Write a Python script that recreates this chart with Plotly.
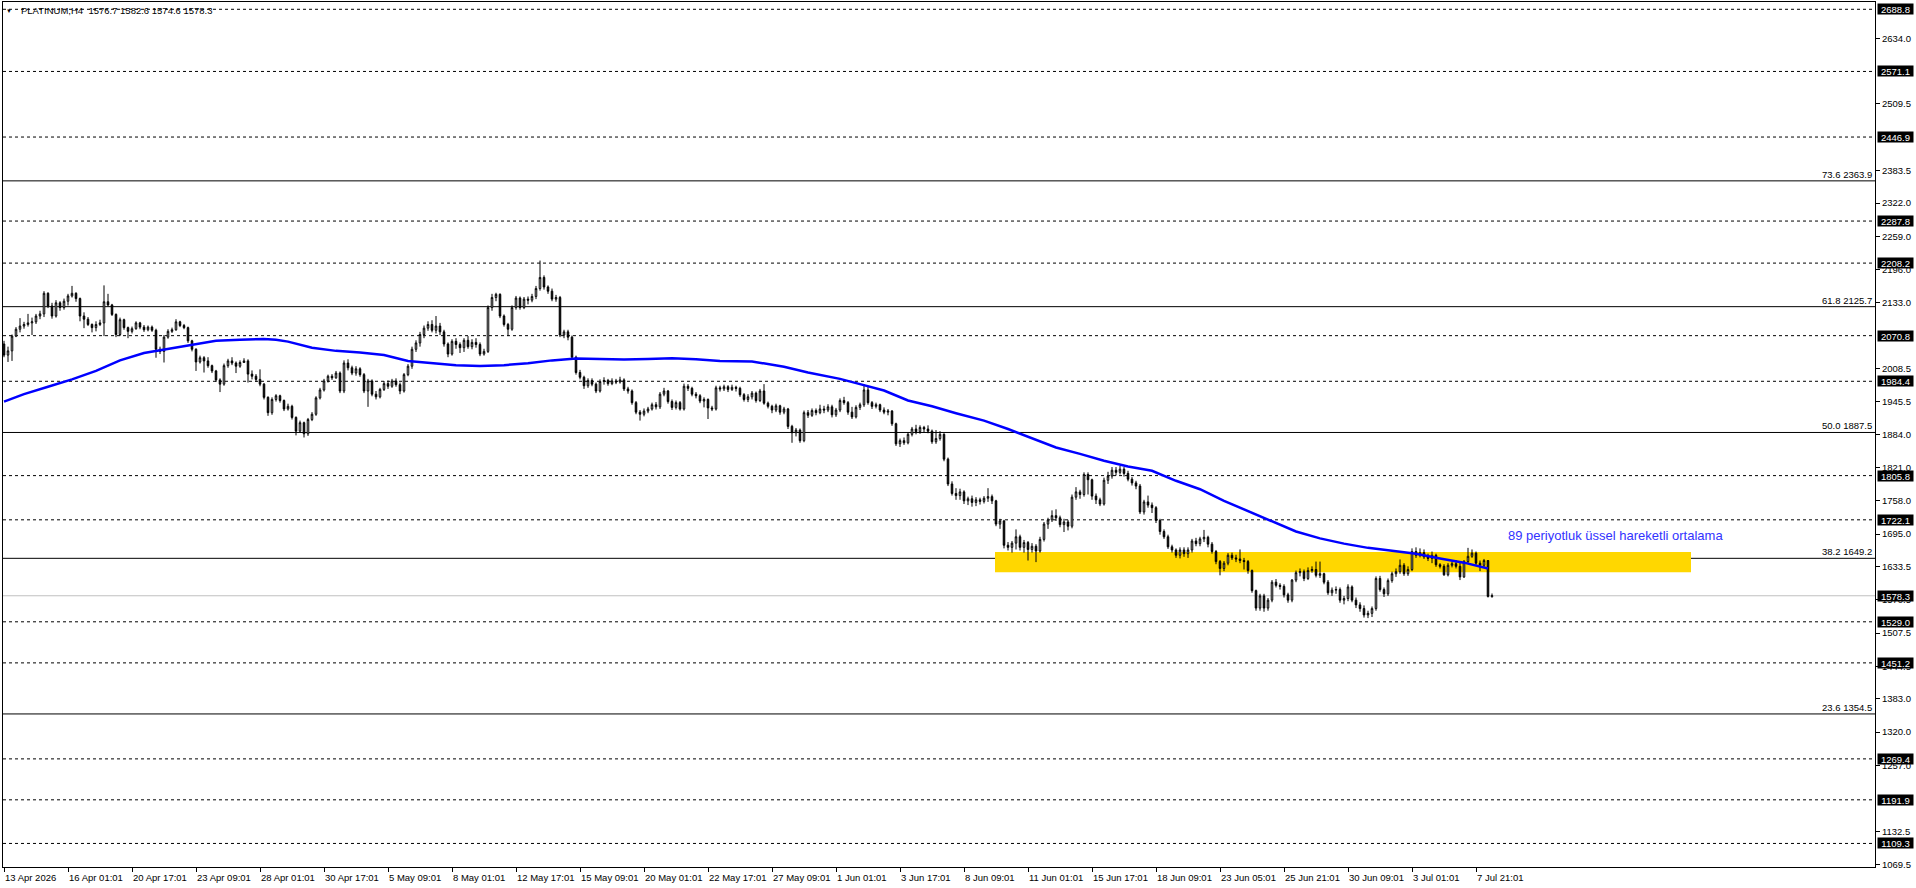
import plotly.graph_objects as go

# ---------------- data ----------------
TITLE_TEXT = "PLATINUM,H4  1576.7 1582.6 1574.6 1578.3"
MA_LABEL = "89 periyotluk üssel hareketli ortalama"

OPEN = [
2055,2034,2042,2070,2083,2089,2092,2095,2097,2108,
2112,2151,2127,2108,2133,2124,2136,2146,2151,2141,
2108,2102,2092,2086,2092,2095,2135,2129,2111,2073,
2101,2086,2079,2084,2095,2087,2082,2087,2081,2045,
2041,2068,2079,2082,2097,2090,2086,2061,2045,2021,
2029,2023,2014,2004,1987,1979,2014,2023,2019,2013,
2020,2023,1998,1994,1988,1979,1954,1925,1950,1957,
1948,1932,1937,1916,1890,1906,1885,1912,1922,1953,
1968,1985,1994,1991,2000,1966,2019,2010,2000,2008,
1997,1966,1985,1960,1955,1969,1980,1975,1985,1978,
1966,1997,2013,2045,2057,2073,2085,2092,2081,2089,
2078,2055,2036,2060,2054,2048,2062,2050,2058,2054,
2036,2041,2124,2143,2149,2108,2092,2083,2124,2142,
2124,2140,2138,2145,2160,2181,2163,2155,2140,2143,
2072,2078,2068,2030,2001,1992,1976,1986,1979,1966,
1984,1986,1980,1985,1983,1987,1970,1966,1944,1926,
1922,1928,1932,1940,1936,1960,1966,1946,1935,1944,
1932,1975,1971,1960,1957,1947,1950,1934,1932,1972,
1970,1974,1969,1973,1971,1959,1950,1955,1962,1948,
1966,1943,1937,1930,1938,1926,1932,1899,1887,1892,
1872,1925,1920,1929,1925,1932,1930,1936,1921,1930,
1948,1944,1926,1917,1935,1940,1968,1944,1937,1940,
1930,1926,1928,1904,1866,1872,1868,1884,1894,1889,
1897,1894,1890,1870,1876,1884,1837,1790,1772,1768,
1775,1758,1762,1755,1760,1757,1763,1766,1758,1714,
1720,1674,1670,1678,1690,1670,1679,1666,1672,1663,
1685,1714,1722,1730,1726,1713,1718,1710,1765,1775,
1770,1808,1798,1767,1760,1752,1797,1805,1816,1812,
1818,1810,1799,1792,1786,1737,1756,1750,1745,1721,
1700,1690,1671,1665,1655,1665,1658,1665,1682,1677,
1686,1689,1676,1662,1643,1630,1640,1655,1650,1648,
1645,1643,1626,1588,1555,1578,1555,1570,1604,1598,
1596,1580,1570,1608,1622,1624,1611,1626,1628,1617,
1620,1604,1584,1589,1590,1570,1573,1595,1570,1561,
1554,1542,1545,1554,1611,1590,1582,1607,1620,1624,
1636,1620,1628,1662,1655,1660,1652,1649,1655,1637,
1634,1618,1636,1639,1634,1614,1643,1653,1659,1640,
1636,1645,1576.7]

HIGH = [
2061,2050,2073,2087,2104,2097,2112,2105,2112,2118,
2155,2153,2133,2138,2136,2141,2150,2165,2153,2143,
2115,2106,2094,2098,2101,2166,2150,2131,2113,2105,
2103,2088,2088,2098,2097,2091,2090,2090,2084,2050,
2072,2083,2086,2102,2099,2093,2088,2063,2047,2033,
2032,2030,2016,2006,1990,2018,2027,2030,2022,2024,
2028,2026,2005,1998,2007,1981,1956,1954,1960,1959,
1950,1942,1940,1918,1910,1908,1915,1926,1956,1972,
1989,1997,1998,2004,2003,2024,2026,2014,2013,2011,
2000,1989,1988,1966,1972,1985,1986,1989,1990,1982,
2000,2017,2050,2062,2078,2090,2098,2100,2108,2095,
2082,2058,2064,2066,2058,2066,2070,2064,2066,2058,
2046,2128,2150,2152,2151,2111,2095,2128,2146,2145,
2144,2145,2150,2165,2213,2185,2166,2160,2148,2146,
2082,2082,2071,2033,2006,1995,1990,1990,1982,1988,
1992,1989,1990,1989,1993,1990,1974,1969,1947,1930,
1933,1936,1944,1945,1964,1972,1968,1950,1948,1947,
1980,1979,1974,1964,1960,1954,1952,1938,1976,1976,
1978,1977,1978,1976,1974,1962,1960,1966,1965,1970,
1979,1946,1940,1942,1940,1936,1934,1902,1896,1895,
1929,1930,1933,1933,1940,1938,1941,1940,1934,1952,
1955,1947,1936,1939,1944,1979,1976,1947,1944,1942,
1935,1932,1930,1906,1876,1878,1888,1898,1902,1901,
1900,1901,1893,1892,1890,1886,1840,1795,1782,1781,
1778,1766,1768,1765,1764,1767,1782,1770,1760,1724,
1722,1680,1682,1704,1694,1684,1682,1678,1676,1690,
1718,1726,1740,1742,1730,1724,1722,1770,1784,1779,
1812,1812,1800,1772,1764,1802,1813,1822,1822,1824,
1822,1815,1803,1796,1790,1760,1768,1755,1748,1724,
1704,1694,1675,1668,1670,1670,1670,1686,1688,1690,
1703,1692,1680,1665,1646,1644,1659,1660,1656,1666,
1650,1646,1628,1590,1582,1582,1574,1608,1610,1602,
1600,1584,1610,1626,1630,1628,1632,1634,1643,1643,
1622,1608,1594,1596,1594,1578,1600,1598,1575,1566,
1560,1550,1558,1615,1616,1594,1611,1624,1630,1647,
1640,1634,1668,1670,1668,1666,1658,1662,1658,1640,
1638,1640,1643,1646,1642,1646,1669,1666,1662,1645,
1648,1646,1582.6]

LOW = [
2030,2021,2023,2068,2077,2084,2088,2072,2093,2102,
2106,2123,2103,2105,2118,2120,2128,2143,2135,2098,
2085,2089,2077,2079,2089,2070,2126,2108,2068,2070,
2082,2066,2075,2082,2083,2078,2079,2078,2029,2036,
2020,2065,2076,2080,2087,2083,2057,2041,2004,2018,
2001,2010,2000,1983,1964,1976,2010,2015,2000,2010,
2019,1982,1988,1983,1975,1950,1919,1921,1946,1944,
1928,1929,1912,1882,1887,1878,1881,1909,1919,1950,
1965,1982,1987,1989,1962,1962,2005,1996,1995,1993,
1962,1936,1956,1950,1952,1966,1970,1972,1974,1960,
1963,1994,2008,2040,2050,2066,2080,2077,2075,2072,
2050,2030,2033,2046,2038,2040,2046,2045,2048,2032,
2033,2038,2118,2136,2104,2088,2070,2080,2120,2120,
2121,2130,2134,2140,2156,2158,2150,2136,2135,2068,
2066,2062,2026,1997,1988,1970,1972,1975,1962,1963,
1978,1976,1977,1979,1980,1966,1961,1940,1922,1910,
1918,1924,1929,1931,1932,1956,1942,1930,1931,1929,
1929,1966,1956,1952,1943,1935,1913,1928,1929,1965,
1966,1964,1966,1965,1955,1946,1945,1950,1944,1945,
1940,1933,1924,1926,1921,1922,1894,1868,1880,1868,
1869,1915,1917,1920,1922,1924,1926,1916,1917,1926,
1940,1921,1913,1914,1930,1936,1940,1932,1933,1926,
1922,1920,1900,1862,1860,1864,1865,1880,1884,1885,
1888,1886,1866,1866,1872,1833,1786,1768,1760,1760,
1752,1750,1747,1748,1751,1753,1756,1752,1710,1705,
1668,1664,1660,1666,1664,1660,1645,1660,1642,1660,
1681,1705,1718,1720,1708,1699,1702,1706,1760,1762,
1766,1770,1760,1752,1748,1749,1790,1800,1806,1808,
1804,1795,1787,1780,1733,1732,1745,1735,1716,1694,
1686,1667,1660,1650,1649,1652,1650,1660,1672,1672,
1680,1670,1658,1638,1617,1625,1636,1646,1642,1640,
1628,1620,1584,1550,1550,1548,1550,1566,1594,1590,
1575,1565,1566,1604,1615,1606,1608,1622,1613,1612,
1600,1580,1578,1582,1565,1562,1568,1566,1555,1548,
1537,1536,1538,1550,1586,1576,1578,1603,1614,1620,
1616,1616,1625,1650,1651,1648,1644,1640,1633,1630,
1616,1615,1632,1630,1608,1612,1640,1650,1636,1625,
1632,1575,1574.6]

CLOSE = [
2034,2042,2070,2083,2089,2092,2095,2097,2108,2112,
2151,2127,2108,2133,2124,2136,2146,2151,2141,2108,
2102,2092,2086,2092,2095,2135,2129,2111,2073,2101,
2086,2079,2084,2095,2087,2082,2087,2081,2045,2041,
2068,2079,2082,2097,2090,2086,2061,2045,2021,2029,
2023,2014,2004,1987,1979,2014,2023,2019,2013,2020,
2023,1998,1994,1988,1979,1954,1925,1950,1957,1948,
1932,1937,1916,1890,1906,1885,1912,1922,1953,1968,
1985,1994,1991,2000,1966,2019,2010,2000,2008,1997,
1966,1985,1960,1955,1969,1980,1975,1985,1978,1966,
1997,2013,2045,2057,2073,2085,2092,2081,2089,2078,
2055,2036,2060,2054,2048,2062,2050,2058,2054,2036,
2041,2124,2143,2149,2108,2092,2083,2124,2142,2124,
2140,2138,2145,2160,2181,2163,2155,2140,2143,2072,
2078,2068,2030,2001,1992,1976,1986,1979,1966,1984,
1986,1980,1985,1983,1987,1970,1966,1944,1926,1922,
1928,1932,1940,1936,1960,1966,1946,1935,1944,1932,
1975,1971,1960,1957,1947,1950,1934,1932,1972,1970,
1974,1969,1973,1971,1959,1950,1955,1962,1948,1966,
1943,1937,1930,1938,1926,1932,1899,1887,1892,1872,
1925,1920,1929,1925,1932,1930,1936,1921,1930,1948,
1944,1926,1917,1935,1940,1968,1944,1937,1940,1930,
1926,1928,1904,1866,1872,1868,1884,1894,1889,1897,
1894,1890,1870,1876,1884,1837,1790,1772,1768,1775,
1758,1762,1755,1760,1757,1763,1766,1758,1714,1720,
1674,1670,1678,1690,1670,1679,1666,1672,1663,1685,
1714,1722,1730,1726,1713,1718,1710,1765,1775,1770,
1808,1798,1767,1760,1752,1797,1805,1816,1812,1818,
1810,1799,1792,1786,1737,1756,1750,1745,1721,1700,
1690,1671,1665,1655,1665,1658,1665,1682,1677,1686,
1689,1676,1662,1643,1630,1640,1655,1650,1648,1645,
1643,1626,1588,1555,1578,1555,1570,1604,1598,1596,
1580,1570,1608,1622,1624,1611,1626,1628,1617,1620,
1604,1584,1589,1590,1570,1573,1595,1570,1561,1554,
1542,1545,1554,1611,1590,1582,1607,1620,1624,1636,
1620,1628,1662,1655,1660,1652,1649,1655,1637,1634,
1618,1636,1639,1634,1614,1643,1653,1659,1640,1636,
1645,1577,1578.3]

# 89-period exponential moving average (bar index, value)
MA_BAR = [0, 5, 11, 17, 23, 29, 35, 41, 47, 53, 59, 65, 68, 71, 77, 83, 89, 95,
          101, 107, 113, 119, 125, 131, 137, 143, 149, 155, 161, 167, 173, 179,
          187, 195, 201, 209, 214, 220, 226, 232, 238, 245, 251, 257, 263, 269,
          275, 281, 287, 293, 299, 305, 311, 317, 323, 329, 335, 341, 347, 353,
          359, 365, 371]
MA_VALUE = [1946, 1960, 1974, 1988, 2004, 2024, 2038, 2046, 2054, 2061, 2063,
            2064.5, 2063, 2059.5, 2048, 2042, 2039, 2034, 2023, 2019, 2015,
            2013.5, 2015, 2018.5, 2024, 2027.5, 2026, 2025.5, 2026.5, 2028,
            2026, 2023, 2022, 2012, 2001, 1989, 1979, 1967, 1948, 1937, 1924,
            1910, 1894, 1876, 1859, 1847, 1834, 1823, 1815, 1796, 1780, 1758,
            1739, 1720, 1700, 1687, 1677, 1669, 1664, 1658, 1649, 1641, 1630]

DATE_TICK_BARS = [0, 16, 32, 48, 64, 80, 96, 112, 128, 144, 160, 176, 192, 208,
                  224, 240, 256, 272, 288, 304, 320, 336, 352, 368]
DATE_TICK_LABELS = ["13 Apr 2026", "16 Apr 01:01", "20 Apr 17:01", "23 Apr 09:01",
                    "28 Apr 01:01", "30 Apr 17:01", "5 May 09:01", "8 May 01:01",
                    "12 May 17:01", "15 May 09:01", "20 May 01:01", "22 May 17:01",
                    "27 May 09:01", "1 Jun 01:01", "3 Jun 17:01", "8 Jun 09:01",
                    "11 Jun 01:01", "15 Jun 17:01", "18 Jun 09:01", "23 Jun 05:01",
                    "25 Jun 21:01", "30 Jun 09:01", "3 Jul 01:01", "7 Jul 21:01"]

PRICE_TICKS = [2634.0, 2509.5, 2383.5, 2322.0, 2259.0, 2196.0, 2133.0, 2008.5,
               1945.5, 1884.0, 1821.0, 1758.0, 1695.0, 1633.5, 1570.5, 1507.5,
               1444.5, 1383.0, 1320.0, 1257.0, 1132.5, 1069.5]

DASHED_LEVELS = [2688.8, 2571.1, 2446.9, 2287.8, 2208.2, 2070.8, 1984.4, 1805.8,
                 1722.1, 1529.0, 1451.2, 1269.4, 1191.9, 1109.3]
FIB_RATIOS = ["73.6", "61.8", "50.0", "38.2", "23.6"]
FIB_LEVELS = [2363.9, 2125.7, 1887.5, 1649.2, 1354.5]
CURRENT_PRICE = 1578.3

ZONE_FIRST_BAR, ZONE_LAST_BAR = 247.75, 421.75
ZONE_LOW, ZONE_HIGH = 1623.0, 1661.0

# ---------------- figure ----------------
assert len(OPEN) == len(HIGH) == len(LOW) == len(CLOSE)
BARS = list(range(len(CLOSE)))

FONT = "Liberation Sans, Arial, sans-serif"
Y_MIN, Y_MAX = 1064.7, 2702.6

fig = go.Figure()

fig.add_trace(go.Candlestick(
    x=BARS, open=OPEN, high=HIGH, low=LOW, close=CLOSE,
    increasing=dict(line=dict(color="black", width=1), fillcolor="white"),
    decreasing=dict(line=dict(color="black", width=1), fillcolor="black"),
    whiskerwidth=0, hoverinfo="skip", showlegend=False,
))

fig.add_trace(go.Scatter(
    x=MA_BAR, y=MA_VALUE, mode="lines",
    line=dict(color="#0000FF", width=2.5), hoverinfo="skip", showlegend=False,
))

shapes = []
shapes.append(dict(type="rect", xref="x", yref="y", x0=ZONE_FIRST_BAR, x1=ZONE_LAST_BAR,
                   y0=ZONE_LOW, y1=ZONE_HIGH, fillcolor="#FFD700",
                   line=dict(width=0), layer="below"))
for lv in DASHED_LEVELS:
    shapes.append(dict(type="line", xref="paper", yref="y", x0=0, x1=1, y0=lv, y1=lv,
                       line=dict(color="black", width=1, dash="3px,3px"), layer="below"))
for lv in FIB_LEVELS:
    shapes.append(dict(type="line", xref="paper", yref="y", x0=0, x1=1, y0=lv, y1=lv,
                       line=dict(color="black", width=1), layer="below"))
shapes.append(dict(type="line", xref="paper", yref="y", x0=0, x1=1,
                   y0=CURRENT_PRICE, y1=CURRENT_PRICE,
                   line=dict(color="#C0C0C0", width=1), layer="below"))

annotations = []
# price boxes on the right scale
for lv in DASHED_LEVELS + [CURRENT_PRICE]:
    annotations.append(dict(
        xref="paper", x=1, xanchor="left", xshift=2,
        yref="y", y=lv, yanchor="middle",
        text=f"{lv:.1f}", showarrow=False, bgcolor="black",
        font=dict(family=FONT, size=9.5, color="white"),
        width=35, height=10, borderpad=0, align="center",
    ))
# fibonacci labels
for r, lv in zip(FIB_RATIOS, FIB_LEVELS):
    annotations.append(dict(
        xref="paper", x=1, xanchor="right", xshift=-1,
        yref="y", y=lv, yanchor="bottom", yshift=-1,
        text=f"{r} {lv:.1f}", showarrow=False,
        font=dict(family=FONT, size=9.5, color="black"),
    ))
# date labels (left aligned at ticks)
for b, lab in zip(DATE_TICK_BARS, DATE_TICK_LABELS):
    annotations.append(dict(
        xref="x", x=b, xanchor="left", xshift=-1,
        yref="paper", y=0, yanchor="top", yshift=-3,
        text=lab, showarrow=False,
        font=dict(family=FONT, size=9.5, color="black"),
    ))
# title
annotations.append(dict(
    xref="paper", x=0, xanchor="left", xshift=1,
    yref="y", y=2686.0, yanchor="middle",
    text="▼", showarrow=False, font=dict(family=FONT, size=6, color="black"),
))
annotations.append(dict(
    xref="paper", x=0, xanchor="left", xshift=16,
    yref="y", y=2686.0, yanchor="middle",
    text=TITLE_TEXT, showarrow=False, font=dict(family=FONT, size=9.5, color="black"),
))
# MA label
annotations.append(dict(
    xref="x", x=402.75, yref="y", y=1693.2, xanchor="center", yanchor="middle",
    text=MA_LABEL, showarrow=False, font=dict(family=FONT, size=13, color="#3232FF"),
))

fig.update_layout(
    width=1916, height=888,
    margin=dict(l=3, r=41, t=2, b=21, pad=0),
    paper_bgcolor="white", plot_bgcolor="white",
    showlegend=False, hovermode=False,
    boxgap=0.45,
    shapes=shapes, annotations=annotations,
    xaxis=dict(
        range=[-0.25, 467.75], showgrid=False, zeroline=False,
        showline=True, linecolor="black", linewidth=1, mirror=True,
        ticks="outside", ticklen=4, tickcolor="black", tickwidth=1,
        tickvals=DATE_TICK_BARS, showticklabels=False,
        rangeslider=dict(visible=False), fixedrange=True,
    ),
    yaxis=dict(
        side="right", range=[Y_MIN, Y_MAX], showgrid=False, zeroline=False,
        showline=True, linecolor="black", linewidth=1, mirror=True,
        ticks="outside", ticklen=4, tickcolor="black", tickwidth=1,
        tickvals=PRICE_TICKS, ticktext=[f"{v:.1f}" for v in PRICE_TICKS],
        tickfont=dict(family=FONT, size=9.5, color="black"),
        fixedrange=True,
    ),
)

fig.write_html("out.html")
